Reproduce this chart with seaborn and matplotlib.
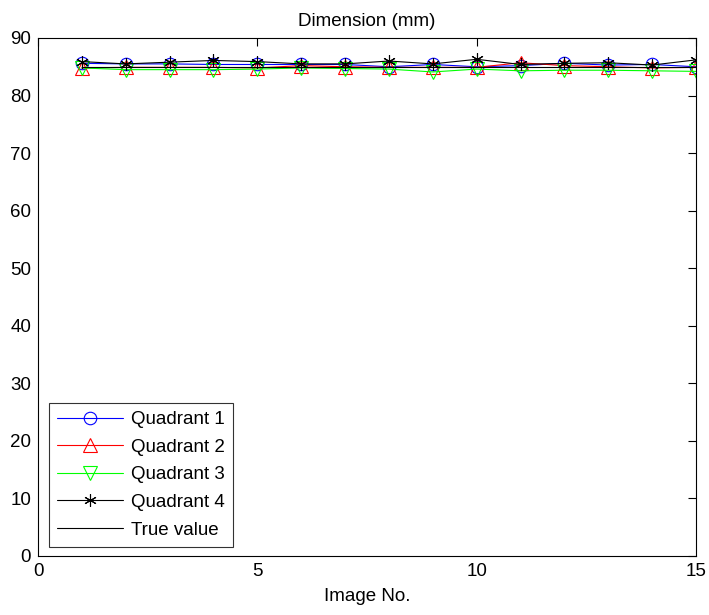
import matplotlib
matplotlib.use("Agg")
import matplotlib.pyplot as plt
import seaborn as sns
import pandas as pd

sns.set_style("white")
plt.rcParams['font.family'] = ['Liberation Sans', 'DejaVu Sans']
plt.rcParams['text.color'] = 'black'
plt.rcParams['axes.labelcolor'] = 'black'
plt.rcParams['xtick.color'] = 'black'
plt.rcParams['ytick.color'] = 'black'

image_no = list(range(1, 16))
quadrant1 = [85.6, 85.5, 85.5, 85.4, 85.4, 85.4, 85.4, 85.0, 85.4, 85.0, 85.2, 85.6, 85.3, 85.4, 85.0]
quadrant2 = [84.8, 84.9, 84.9, 84.9, 84.8, 85.2, 85.0, 84.9, 84.9, 84.9, 85.7, 85.2, 85.0, 84.8, 84.9]
quadrant3 = [84.8, 84.5, 84.5, 84.5, 84.6, 84.8, 84.7, 84.6, 84.1, 84.6, 84.3, 84.4, 84.4, 84.3, 84.2]
quadrant4 = [85.9, 85.5, 85.8, 86.1, 85.9, 85.5, 85.5, 86.0, 85.5, 86.3, 85.4, 85.6, 85.7, 85.3, 86.2]
true_value = [84.9] * 15

fig = plt.figure(figsize=(7.09, 6.15), dpi=100)
ax = fig.add_axes([38/709, 1 - 556/615, 658/709, 518/615])

FS = 13.5
series = [
    ("Quadrant 1", quadrant1, "blue", "o", 9),
    ("Quadrant 2", quadrant2, "red", "^", 10),
    ("Quadrant 3", quadrant3, "#00ff00", "v", 10),
    ("Quadrant 4", quadrant4, "black", (6, 2, 0), 9),
]
for name, vals, col, mk, ms in series:
    df = pd.DataFrame({"x": image_no, "y": vals})
    sns.lineplot(data=df, x="x", y="y", ax=ax, color=col, marker=mk, markersize=ms,
                 markerfacecolor="none", markeredgecolor=col, markeredgewidth=0.8,
                 linewidth=0.8, label=name)
df = pd.DataFrame({"x": image_no, "y": true_value})
sns.lineplot(data=df, x="x", y="y", ax=ax, color="black", linewidth=0.8, label="True value")

ax.set_xlim(0, 15)
ax.set_ylim(0, 90)
ax.set_xticks([0, 5, 10, 15])
ax.set_yticks(range(0, 91, 10))
ax.tick_params(direction="in", top=True, right=True, labelsize=FS, length=6, width=0.8, pad=5,
               colors="black")
for s in ax.spines.values():
    s.set_visible(True)
    s.set_color("black")
    s.set_linewidth(0.8)
ax.set_xlabel("Image No.", fontsize=FS, labelpad=6, color="black")
ax.set_ylabel("")
ax.set_title("Dimension (mm)", fontsize=FS, pad=9, color="black")

leg = ax.legend(loc="lower left", bbox_to_anchor=(11/658, 9/518), fontsize=FS, handlelength=3.5,
                borderaxespad=0, frameon=True, fancybox=False, edgecolor="black",
                labelspacing=0.56, borderpad=0.45, handletextpad=0.4, labelcolor="black")
leg.get_frame().set_linewidth(0.8)

fig.savefig("out.png", dpi=100)
